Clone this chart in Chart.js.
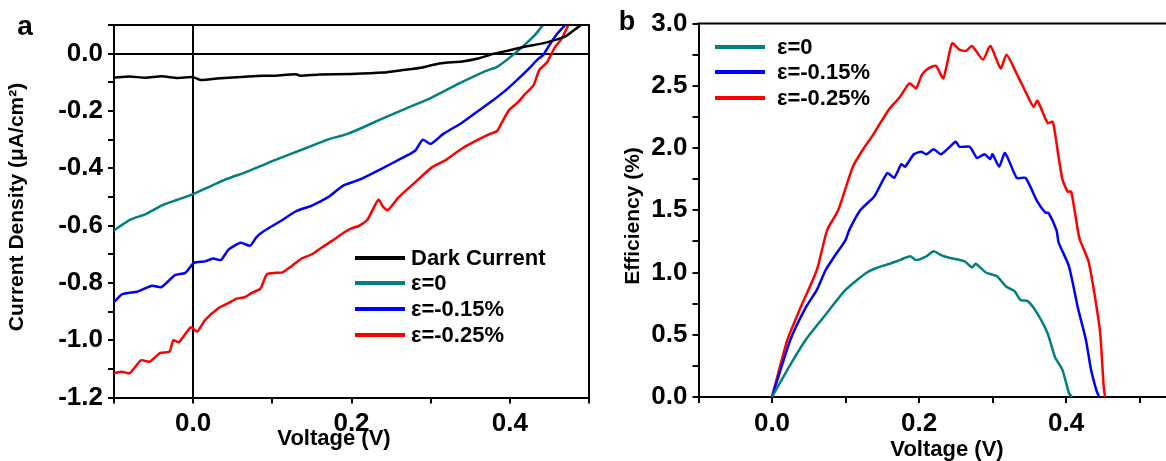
<!DOCTYPE html>
<html>
<head>
<meta charset="utf-8">
<script src="https://cdn.jsdelivr.net/npm/chart.js@4.4.1/dist/chart.umd.min.js"></script>
<style>
  html, body { margin: 0; padding: 0; background: #fff; overflow: hidden; }
  #chartA { position: absolute; left: 0; top: 0; }
  #chartB { position: absolute; left: 600px; top: 0; }
</style>
</head>
<body>
<canvas id="chartA" width="600" height="461"></canvas>
<canvas id="chartB" width="566" height="461"></canvas>
<script>
// ---- panel a : J-V curves ----
const darkV = [-0.1, -0.08, -0.06, -0.04, -0.02, 0, 0.01, 0.03, 0.05, 0.08, 0.1, 0.13, 0.135, 0.16, 0.2, 0.24, 0.263, 0.29, 0.311, 0.34, 0.36, 0.38, 0.4, 0.42, 0.44, 0.46, 0.47, 0.48, 0.49];
const darkJ = [-0.083, -0.08, -0.084, -0.079, -0.085, -0.082, -0.092, -0.087, -0.083, -0.078, -0.077, -0.072, -0.077, -0.073, -0.071, -0.066, -0.058, -0.048, -0.034, -0.027, -0.017, 0.0, 0.012, 0.025, 0.035, 0.05, 0.06, 0.08, 0.1];

const eps0V = [-0.1, -0.08, -0.06, -0.04, -0.02, 0, 0.02, 0.04, 0.07, 0.1, 0.142, 0.17, 0.195, 0.239, 0.27, 0.3, 0.336, 0.37, 0.384, 0.406, 0.43, 0.442];
const eps0J = [-0.617, -0.58, -0.56, -0.53, -0.51, -0.49, -0.465, -0.44, -0.41, -0.375, -0.33, -0.3, -0.28, -0.227, -0.19, -0.155, -0.104, -0.06, -0.046, 0.0, 0.06, 0.1];

const eps15V = [-0.1, -0.09, -0.07, -0.052, -0.04, -0.023, -0.01, 0.001, 0.015, 0.025, 0.035, 0.045, 0.06, 0.072, 0.08, 0.089, 0.11, 0.13, 0.15, 0.171, 0.19, 0.21, 0.239, 0.26, 0.28, 0.29, 0.3, 0.316, 0.34, 0.36, 0.38, 0.394, 0.41, 0.425, 0.435, 0.442, 0.45, 0.46, 0.47];
const eps15J = [-0.868, -0.84, -0.83, -0.81, -0.815, -0.773, -0.765, -0.73, -0.725, -0.715, -0.72, -0.683, -0.66, -0.67, -0.64, -0.62, -0.585, -0.55, -0.53, -0.5, -0.46, -0.44, -0.4, -0.37, -0.34, -0.3, -0.315, -0.28, -0.24, -0.2, -0.16, -0.13, -0.09, -0.05, -0.02, -0.005, 0.03, 0.07, 0.1];

const eps25V = [-0.1, -0.09, -0.08, -0.066, -0.055, -0.042, -0.03, -0.025, -0.018, -0.003, 0.005, 0.015, 0.031, 0.045, 0.055, 0.065, 0.074, 0.085, 0.093, 0.105, 0.113, 0.125, 0.137, 0.15, 0.166, 0.18, 0.19, 0.2, 0.21, 0.22, 0.234, 0.24, 0.246, 0.26, 0.28, 0.302, 0.32, 0.34, 0.36, 0.375, 0.384, 0.39, 0.399, 0.41, 0.418, 0.43, 0.437, 0.447, 0.457, 0.465, 0.474];
const eps25J = [-1.115, -1.11, -1.115, -1.07, -1.075, -1.045, -1.04, -1.0, -1.007, -0.955, -0.97, -0.93, -0.89, -0.87, -0.855, -0.85, -0.835, -0.82, -0.77, -0.765, -0.763, -0.74, -0.715, -0.7, -0.67, -0.645, -0.625, -0.61, -0.6, -0.58, -0.51, -0.535, -0.546, -0.5, -0.45, -0.396, -0.37, -0.33, -0.3, -0.28, -0.27, -0.24, -0.197, -0.17, -0.145, -0.11, -0.058, -0.03, 0.023, 0.05, 0.1];

const xTicksA = [-0.1, 0, 0.1, 0.2, 0.3, 0.4, 0.5];
const yTicksA = [-1.2, -1.1, -1.0, -0.9, -0.8, -0.7, -0.6, -0.5, -0.4, -0.3, -0.2, -0.1, 0, 0.1];

// ---- panel b : efficiency ----
const eff0V = [0, 0.026, 0.046, 0.07, 0.1, 0.129, 0.144, 0.16, 0.174, 0.188, 0.196, 0.21, 0.22, 0.23, 0.24, 0.262, 0.272, 0.277, 0.291, 0.306, 0.318, 0.33, 0.338, 0.348, 0.36, 0.375, 0.385, 0.395, 0.404, 0.408];
const eff0 = [0, 0.27, 0.46, 0.64, 0.86, 1.0, 1.04, 1.07, 1.1, 1.13, 1.1, 1.13, 1.17, 1.14, 1.12, 1.09, 1.04, 1.07, 1.0, 0.97, 0.89, 0.85, 0.78, 0.77, 0.68, 0.51, 0.32, 0.22, 0.03, 0];

const eff15V = [0, 0.025, 0.046, 0.061, 0.073, 0.085, 0.1, 0.105, 0.12, 0.139, 0.157, 0.166, 0.176, 0.181, 0.193, 0.203, 0.21, 0.22, 0.23, 0.25, 0.255, 0.269, 0.279, 0.289, 0.297, 0.3, 0.309, 0.317, 0.333, 0.345, 0.36, 0.372, 0.376, 0.387, 0.39, 0.404, 0.416, 0.427, 0.434, 0.441, 0.445];
const eff15 = [0, 0.46, 0.72, 0.86, 1.02, 1.13, 1.26, 1.34, 1.5, 1.61, 1.8, 1.76, 1.87, 1.85, 1.95, 1.97, 1.95, 1.99, 1.95, 2.05, 2.01, 2.01, 1.92, 1.95, 1.91, 1.95, 1.85, 1.96, 1.76, 1.76, 1.58, 1.48, 1.48, 1.34, 1.24, 1.05, 0.72, 0.46, 0.22, 0.06, 0];

const eff25V = [0, 0.021, 0.039, 0.061, 0.075, 0.09, 0.11, 0.124, 0.139, 0.159, 0.174, 0.187, 0.196, 0.204, 0.213, 0.223, 0.233, 0.245, 0.255, 0.264, 0.272, 0.287, 0.297, 0.311, 0.319, 0.331, 0.35, 0.356, 0.361, 0.375, 0.382, 0.388, 0.395, 0.402, 0.407, 0.416, 0.419, 0.431, 0.446, 0.451, 0.453];
const eff25 = [0, 0.46, 0.72, 1.02, 1.34, 1.5, 1.85, 1.99, 2.12, 2.31, 2.41, 2.52, 2.48, 2.59, 2.64, 2.66, 2.56, 2.84, 2.79, 2.78, 2.82, 2.71, 2.82, 2.64, 2.75, 2.62, 2.39, 2.33, 2.38, 2.2, 2.21, 2.0, 1.75, 1.65, 1.65, 1.34, 1.26, 1.08, 0.54, 0.1, 0];

const xTicksB = [-0.1, 0, 0.1, 0.2, 0.3, 0.4, 0.5];
const yTicksB = [0, 0.25, 0.5, 0.75, 1.0, 1.25, 1.5, 1.75, 2.0, 2.25, 2.5, 2.75, 3.0];

const labels = ['Dark Current', 'ε=0', 'ε=-0.15%', 'ε=-0.25%'];
const colors = ['#000000', '#008080', '#0000ff', '#ff0000'];

const FONT = "'Liberation Sans', Arial, sans-serif";
Chart.defaults.font.family = FONT;
Chart.defaults.font.weight = 'bold';
Chart.defaults.color = '#000';

const serie = (label, xs, ys, color) => ({
  label,
  data: xs.map((x, i) => ({ x, y: ys[i] })),
  borderColor: color,
  backgroundColor: color,
  borderWidth: 2.5,
  pointRadius: 0,
  tension: 0.2,
  fill: false,
});

// borde superior/derecho, textos y leyenda
const decor = {
  id: 'decor',
  afterDraw(chart, args, opts) {
    const { ctx, chartArea: a } = chart;
    ctx.save();
    ctx.strokeStyle = '#000';
    ctx.lineWidth = 2;
    ctx.beginPath();
    ctx.moveTo(a.left - 1, a.top);
    ctx.lineTo(a.right + 1, a.top);
    if (opts.rightBorder) {
      ctx.moveTo(a.right, a.top);
      ctx.lineTo(a.right, a.bottom);
    }
    ctx.stroke();

    ctx.fillStyle = '#000';
    (opts.texts || []).forEach((t) => {
      ctx.save();
      ctx.font = `bold ${t.size}px ${FONT}`;
      ctx.translate(t.x, t.y);
      if (t.rotate) ctx.rotate(-Math.PI / 2);
      ctx.textAlign = t.align || 'center';
      ctx.textBaseline = t.baseline || 'middle';
      ctx.fillText(t.text, 0, 0);
      ctx.restore();
    });

    const lg = opts.legend;
    if (lg) {
      ctx.font = `bold ${lg.size}px ${FONT}`;
      ctx.textAlign = 'left';
      ctx.textBaseline = 'middle';
      chart.data.datasets.forEach((ds, i) => {
        const y = lg.ys[i];
        ctx.strokeStyle = ds.borderColor;
        ctx.lineWidth = 4;
        ctx.beginPath();
        ctx.moveTo(lg.x1, y);
        ctx.lineTo(lg.x2, y);
        ctx.stroke();
        ctx.fillStyle = '#000';
        ctx.fillText(ds.label, lg.tx, y + 1);
      });
    }
    ctx.restore();
  },
};

const zeroGrid = (c) => (c.tick && Math.abs(c.tick.value) < 1e-9 ? '#000' : 'rgba(0,0,0,0)');

const axis = (min, max, tickVals, isMajor, size, zeroLines) => ({
  type: 'linear',
  min,
  max,
  afterBuildTicks: (s) => { s.ticks = tickVals.map((v) => ({ value: v })); },
  ticks: {
    autoSkip: false,
    maxRotation: 0,
    padding: 5,
    font: { size: 26, weight: 'bold' },
    color: '#000',
    callback: (v) => (isMajor(v) ? v.toFixed(1) : ''),
  },
  grid: {
    drawOnChartArea: zeroLines,
    color: zeroLines ? zeroGrid : '#000',
    lineWidth: 2,
    tickLength: 6,
    tickColor: '#000',
    tickWidth: 2,
  },
  border: { display: true, color: '#000', width: 2 },
  afterFit: size,
});

const even = (v) => Math.abs(Math.round(v * 10)) % 2 === 0;
const half = (v) => Math.abs(Math.round(v * 4)) % 2 === 0;

new Chart(document.getElementById('chartA'), {
  type: 'line',
  data: {
    datasets: [
      serie(labels[0], darkV, darkJ, colors[0]),
      serie(labels[1], eps0V, eps0J, colors[1]),
      serie(labels[2], eps15V, eps15J, colors[2]),
      serie(labels[3], eps25V, eps25J, colors[3]),
    ],
  },
  options: {
    responsive: false,
    animation: false,
    layout: { padding: { top: 25, right: 11, left: 0, bottom: 0 } },
    plugins: {
      legend: { display: false },
      tooltip: { enabled: false },
      decor: {
        rightBorder: true,
        texts: [
          { text: 'a', x: 25, y: 35, size: 28, baseline: 'alphabetic' },
          { text: 'Current Density (μA/cm²)', x: 17, y: 207, size: 21, rotate: true },
          { text: 'Voltage (V)', x: 334, y: 445, size: 22, baseline: 'alphabetic' },
        ],
        legend: { x1: 355, x2: 405, tx: 411, ys: [258, 283, 309, 335], size: 22 },
      },
    },
    scales: {
      x: axis(-0.1, 0.5, xTicksA, even, (s) => { s.height = 63.5; }, true),
      y: axis(-1.2, 0.1, yTicksA, even, (s) => { s.width = 114; }, true),
    },
  },
  plugins: [decor],
});

new Chart(document.getElementById('chartB'), {
  type: 'line',
  data: {
    datasets: [
      serie(labels[1], eff0V, eff0, colors[1]),
      serie(labels[2], eff15V, eff15, colors[2]),
      serie(labels[3], eff25V, eff25, colors[3]),
    ],
  },
  options: {
    responsive: false,
    animation: false,
    layout: { padding: { top: 23.5, right: 0, left: 0, bottom: 0 } },
    plugins: {
      legend: { display: false },
      tooltip: { enabled: false },
      decor: {
        rightBorder: false,
        texts: [
          { text: 'b', x: 27, y: 30, size: 27, baseline: 'alphabetic' },
          { text: 'Efficiency (%)', x: 33, y: 216, size: 21, rotate: true },
          { text: 'Voltage (V)', x: 347, y: 456, size: 22, baseline: 'alphabetic' },
        ],
        legend: { x1: 115, x2: 165, tx: 177, ys: [47, 72, 98], size: 22 },
      },
    },
    scales: {
      x: axis(-0.1, 0.536, xTicksB, even, (s) => { s.height = 64; }, false),
      y: axis(0, 3.0, yTicksB, half, (s) => { s.width = 98.5; }, false),
    },
  },
  plugins: [decor],
});
</script>
</body>
</html>
